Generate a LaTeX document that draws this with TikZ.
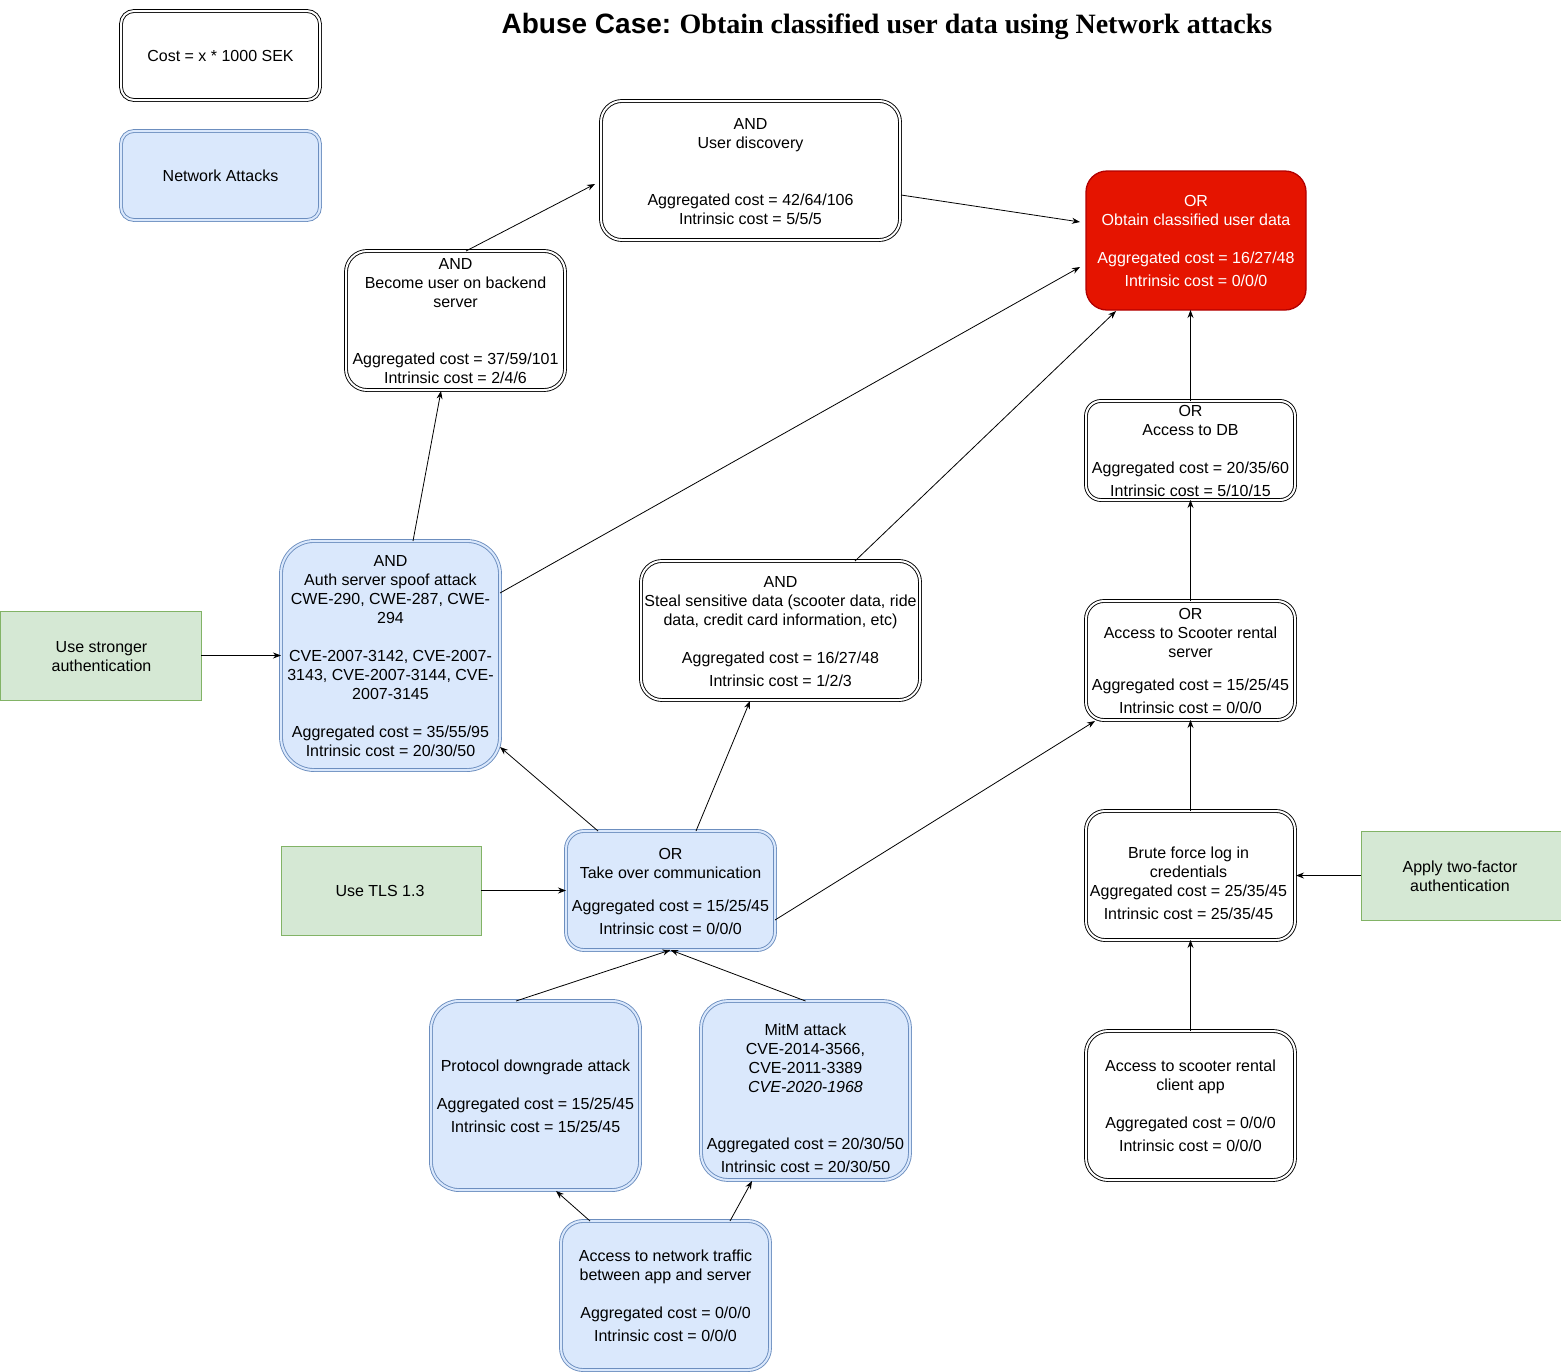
\documentclass[tikz,border=0pt]{standalone}
\usepackage{fontspec}
\setmainfont{Liberation Sans}
\newfontfamily\titleserif{Liberation Serif}
\usetikzlibrary{calc,arrows.meta}

\definecolor{netfill}{HTML}{DAE8FC}
\definecolor{netline}{HTML}{6C8EBF}
\definecolor{mitfill}{HTML}{D5E8D4}
\definecolor{mitline}{HTML}{82B366}
\definecolor{goalfill}{HTML}{E51400}
\definecolor{goalline}{HTML}{B20000}

\tikzset{
  boxbase/.style={rectangle, inner sep=0pt, outer sep=0pt},
  wbox/.style={boxbase, draw=black, fill=white, line width=0.9pt, double=white, double distance=2pt},
  nbox/.style={boxbase, draw=netline, fill=netfill, line width=0.9pt, double=netfill, double distance=2pt},
  gbox/.style={boxbase, draw=goalline, fill=goalfill, line width=1.3pt},
  mbox/.style={boxbase, draw=mitline, fill=mitfill, line width=0.8pt},
  txt/.style={align=center, inner sep=0pt, yshift=1pt, font=\fontsize{16}{19}\selectfont},
  conn/.style={line width=0.8pt, -{Stealth[length=8pt,width=6pt]}},
}

\begin{document}
\begin{tikzpicture}[x=1pt,y=-1pt]
\useasboundingbox (0,0) rectangle (1561,1371);

% title
\node[anchor=base, inner sep=0pt] (title) at (887,33)
  {\fontsize{28}{32}\selectfont\bfseries Abuse Case:\hspace{-2pt} {\titleserif Obtain classified user data using Network attacks}};

% legend
\node[wbox, minimum width=199, minimum height=89, rounded corners=13] (cost) at (220.5,55.5) {};
\node[txt] (cost-t) at (220.5,57) {Cost = x * 1000 SEK};
\node[nbox, minimum width=199, minimum height=89, rounded corners=13] (leg) at (220.5,175.5) {};
\node[txt] (leg-t) at (220.5,177) {Network Attacks};

% goal
\node[gbox, minimum width=220, minimum height=139, rounded corners=21] (ob) at (1196,240.5) {};
\node[txt, text=white] (ob-t) at (1196,242) {OR\\Obtain classified user data\\[19pt]Aggregated cost = 16/27/48\\[4pt]Intrinsic cost = 0/0/0};

% white nodes
\node[wbox, minimum width=299, minimum height=139, rounded corners=21] (ud) at (750.5,170.5) {};
\node[txt] (ud-t) at (750.5,172.5) {AND\\User discovery\\[38pt]Aggregated cost = 42/64/106\\Intrinsic cost = 5/5/5};

\node[wbox, minimum width=219, minimum height=139, rounded corners=21] (bu) at (455.5,320.5) {};
\node[txt] (bu-t) at (455.5,322) {AND\\Become user on backend\\server\\[38pt]Aggregated cost = 37/59/101\\Intrinsic cost = 2/4/6};

\node[wbox, minimum width=209, minimum height=99, rounded corners=15] (db) at (1190.5,450.5) {};
\node[txt] (db-t) at (1190.5,452) {OR\\Access to DB\\[19pt]Aggregated cost = 20/35/60\\[4pt]Intrinsic cost = 5/10/15};

\node[wbox, minimum width=279, minimum height=139, rounded corners=21] (st) at (780.5,630.5) {};
\node[txt] (st-t) at (780.5,632.5) {AND\\Steal sensitive data (scooter data, ride\\data, credit card information, etc)\\[19pt]Aggregated cost = 16/27/48\\[4pt]Intrinsic cost = 1/2/3};

\node[wbox, minimum width=209, minimum height=119, rounded corners=18] (ss) at (1190.5,660.5) {};
\node[txt] (ss-t) at (1190.5,662) {OR\\Access to Scooter rental\\server\\[14pt]Aggregated cost = 15/25/45\\[4pt]Intrinsic cost = 0/0/0};

\node[wbox, minimum width=209, minimum height=129, rounded corners=19] (bf) at (1190.5,875.5) {};
\node[txt] (bf-t) at (1188.5,884.5) {Brute force log in\\credentials\\Aggregated cost = 25/35/45\\[4pt]Intrinsic cost = 25/35/45};

\node[wbox, minimum width=209, minimum height=149, rounded corners=22] (ca) at (1190.5,1105.5) {};
\node[txt] (ca-t) at (1190.5,1107) {Access to scooter rental\\client app\\[19pt]Aggregated cost = 0/0/0\\[4pt]Intrinsic cost = 0/0/0};

% network attack nodes
\node[nbox, minimum width=219, minimum height=229, rounded corners=33] (as) at (390.5,655.5) {};
\node[txt] (as-t) at (390.5,657) {AND\\Auth server spoof attack\\CWE-290, CWE-287, CWE-\\294\\[19pt]CVE-2007-3142, CVE-2007-\\3143, CVE-2007-3144, CVE-\\2007-3145\\[19pt]Aggregated cost = 35/55/95\\Intrinsic cost = 20/30/50};

\node[nbox, minimum width=209, minimum height=119, rounded corners=18] (to) at (670.5,890.5) {};
\node[txt] (to-t) at (670.5,892.5) {OR\\Take over communication\\[14pt]Aggregated cost = 15/25/45\\[4pt]Intrinsic cost = 0/0/0};

\node[nbox, minimum width=209, minimum height=189, rounded corners=28] (pd) at (535.5,1095.5) {};
\node[txt] (pd-t) at (535.5,1097.5) {Protocol downgrade attack\\[19pt]Aggregated cost = 15/25/45\\[4pt]Intrinsic cost = 15/25/45};

\node[nbox, minimum width=209, minimum height=179, rounded corners=27] (mm) at (805.5,1090.5) {};
\node[txt] (mm-t) at (805.5,1099.5) {MitM attack\\CVE-2014-3566,\\ CVE-2011-3389\\\textit{CVE-2020-1968}\\[38pt]Aggregated cost = 20/30/50\\[4pt]Intrinsic cost = 20/30/50};

\node[nbox, minimum width=209, minimum height=149, rounded corners=22] (nt) at (665.5,1295.5) {};
\node[txt] (nt-t) at (665.5,1297) {Access to network traffic\\between app and server\\[19pt]Aggregated cost = 0/0/0\\[4pt]Intrinsic cost = 0/0/0};

% mitigations
\node[mbox, minimum width=201, minimum height=89] (us) at (100.5,655.5) {};
\node[txt] (us-t) at (101.5,657.5) {Use stronger\\authentication};
\node[mbox, minimum width=200, minimum height=89] (tls) at (381,890.5) {};
\node[txt] (tls-t) at (380,892) {Use TLS 1.3};
\node[mbox, minimum width=200, minimum height=89] (tf) at (1461,875.5) {};
\node[txt] (tf-t) at (1460,877.5) {Apply two-factor\\authentication};

% connectors
\draw[conn] ($(bu.north west)+(120,0)$) -- ($(ud.west)+(-6,13.5)$);
\draw[conn] ($(ud.east)+(1,24.5)$) -- ($(ob.west)+(-6,-18.5)$);
\draw[conn] ($(as.north west)+(132,0)$) -- ($(bu.south west)+(95,1)$);
\draw[conn] ($(as.north east)+(0,52)$) -- ($(ob.west)+(-6,26.5)$);
\draw[conn] ($(st.north west)+(214,0)$) -- ($(ob.south west)+(30,1)$);
\draw[conn] (db.north) -- (db.north |- ob.south);
\draw[conn] (ss.north) -- (db.south);
\draw[conn] ($(to.north west)+(32,0)$) -- ($(as.south east)+(0,-23)$);
\draw[conn] ($(to.north west)+(130,0)$) -- ($(st.south west)+(109,1)$);
\draw[conn] ($(to.east)+(0,29.5)$) -- ($(ss.south west)+(9,1)$);
\draw[conn] (bf.north) -- (ss.south);
\draw[conn] (us.east) -- (as.west);
\draw[conn] (tls.east) -- (to.west);
\draw[conn] (tf.west) -- ($(bf.east)+(1,0)$);
\draw[conn] ($(pd.north west)+(85,0)$) -- (to.south);
\draw[conn] (mm.north) -- (to.south);
\draw[conn] (ca.north) -- (bf.south);
\draw[conn] ($(nt.north west)+(29,0)$) -- ($(pd.south west)+(125,1)$);
\draw[conn] ($(nt.north west)+(169,0)$) -- ($(mm.south west)+(51,1)$);
\end{tikzpicture}
\end{document}
